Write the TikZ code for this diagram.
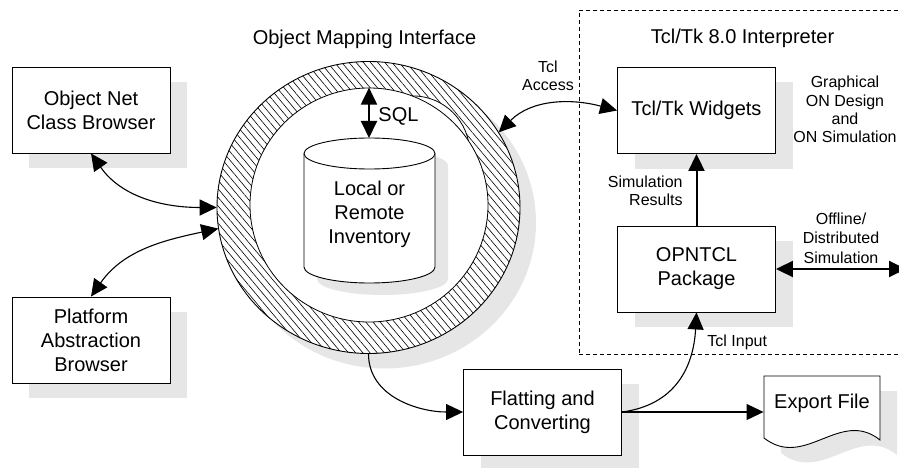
\documentclass[tikz,border=0pt]{standalone}
\usepackage{fontspec}
\setmainfont{Liberation Sans}
\usetikzlibrary{arrows.meta,shapes.geometric,shadows,patterns.meta}
\definecolor{shadowgray}{HTML}{E6E6E6}
\begin{document}
\begin{tikzpicture}[x=1pt,y=1pt,
  >={Triangle[length=17pt,width=16pt]},
  line width=0.9pt,
  mainfont/.style={font=\fontsize{20}{24}\selectfont},
  labelfont/.style={font=\fontsize{16}{18.3}\selectfont},
  boxshadow/.style={drop shadow={shadow xshift=17pt,shadow yshift=-15pt,fill=shadowgray,opacity=1}},
  procbox/.style={draw, fill=white, mainfont, align=center, inner sep=0pt,
    minimum width=158pt, minimum height=86pt, boxshadow},
  link/.style={line width=1.1pt},
  heavylink/.style={line width=2pt},
  annot/.style={labelfont, align=center, inner sep=0pt},
]
\useasboundingbox (0,0) rectangle (899,-468);

% Object mapping interface: hatched ring with its shadow
\node[ellipse, draw, minimum width=303pt, minimum height=292pt, inner sep=0pt,
  drop shadow={shadow xshift=16pt,shadow yshift=-15pt,fill=shadowgray,opacity=1},
  preaction={fill=white},
  pattern={Lines[angle=-50,distance=5.5pt,line width=0.6pt]}] (omi) at (368.5,-207.5) {};
\filldraw[fill=white, line width=0.8pt] (412.7,-152.9) circle (57);
\node[ellipse, draw, fill=white, line width=0.8pt, minimum width=238pt, minimum height=234pt,
  inner sep=0pt] (inner) at (369,-205) {};

% Inventory database cylinder
\fill[shadowgray] (317,-165.5) arc[start angle=180,end angle=0,x radius=65.5pt,y radius=15.5pt]
  -- (448,-279) arc[start angle=0,end angle=-180,x radius=65.5pt,y radius=16pt] -- cycle;
\filldraw[fill=white] (304,-153.5) arc[start angle=180,end angle=0,x radius=65.5pt,y radius=15.5pt]
  -- (435,-267) arc[start angle=0,end angle=-180,x radius=65.5pt,y radius=16pt] -- cycle;
\draw (304,-153.5) arc[start angle=180,end angle=360,x radius=65.5pt,y radius=15.5pt];
\coordinate (cyltop) at (369.5,-138);
\node[mainfont, align=center, inner sep=0pt] (inv) at (369.5,-214) {Local or\\Remote\\Inventory};

\draw[<->, heavylink] (inner.north) -- (inner.north |- cyltop);
\node[mainfont, anchor=base west, inner sep=0pt] (sql) at (378,-122) {SQL};

% Titles
\node[mainfont, anchor=base, inner sep=0pt] (omititle) at (364.5,-45) {Object Mapping Interface};
\node[mainfont, anchor=base, inner sep=0pt] (tcltitle) at (742.5,-44) {Tcl/Tk 8.0 Interpreter};

% Interpreter frame
\node[draw, dash pattern=on 4pt off 3pt, line width=0.8pt, inner sep=0pt,
  minimum width=341pt, minimum height=344pt, anchor=north west] (interp) at (579,-10) {};

% Process boxes
\node[procbox] (cb) at (91,-110) {Object Net\\Class Browser};
\node[procbox] (pab) at (91,-340) {Platform\\Abstraction\\Browser};
\node[procbox] (tw) at (696.5,-110.5) {Tcl/Tk Widgets};
\node[procbox] (op) at (696.5,-269) {OPNTCL\\Package};
\node[procbox] (fc) at (542.5,-412) {Flatting and\\Converting};

% Export file document
\fill[shadowgray] (781,-391) -- (897,-391) -- (897,-455)
  .. controls (857,-423) and (822,-485) .. (781,-453) -- cycle;
\filldraw[fill=white] (764,-376) -- (880,-376) -- (880,-440)
  .. controls (840,-408) and (805,-470) .. (764,-438) -- cycle;
\node[mainfont, inner sep=0pt, minimum width=116pt, minimum height=54pt] (ef) at (822,-403) {Export File};

% Annotations
\node[annot] (tclacc) at (548,-76) {Tcl\\Access};
\node[annot] (gui) at (845,-109.5) {Graphical\\ON Design\\and\\ON Simulation};
\node[annot, align=right, anchor=east] (simres) at (683,-191) {Simulation\\Results};
\node[annot, font=\fontsize{16}{19.5}\selectfont] (offl) at (841,-238) {Offline/\\Distributed\\Simulation};
\node[labelfont, anchor=base west, inner sep=0pt] (tclin) at (707,-346) {Tcl Input};

% Connectors
\draw[<->, link] (cb.south) to[out=-55,in=180] (omi.180);
\draw[<->, link] (omi.188) to[out=192,in=55] (pab.north);
\draw[<->, link] (omi.30) to[out=45,in=165] (tw.west);
\draw[->, link] (omi.south) to[out=-90,in=180] (fc.west);
\draw[->, link] (fc.east) .. controls +(53,7) and +(-3,-55) .. (op.south);
\draw[->, link] (fc.east) -- (fc.east -| ef.west);
\draw[->, heavylink] (op.north) -- (tw.south);
\coordinate (offend) at (906,-269);
\draw[<->, heavylink] (op.east) -- (offend);
\end{tikzpicture}
\end{document}
